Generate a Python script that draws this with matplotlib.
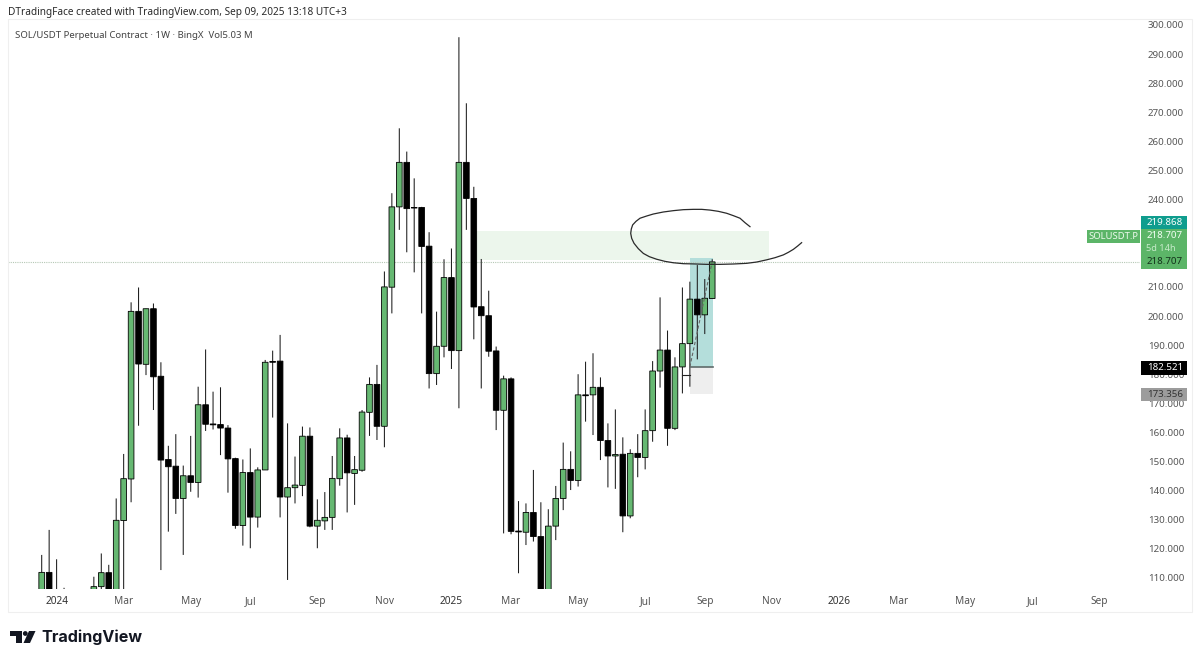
import matplotlib
matplotlib.use('Agg')
import matplotlib.pyplot as plt
from matplotlib.patches import Rectangle, Polygon, Circle
from matplotlib.transforms import Affine2D

################################### DATA ########################################

# weekly candles (anything under ~106 is cut off by the chart)
opens = [103, 111.9, 102, 100, 95, 94, 98, 103, 107, 111.8,
         103, 129.7, 144, 201.6, 183.4, 202.5, 179.3, 150.7, 148.4, 137.3,
         145.1, 142.8, 169.5, 162.9, 162.7, 161.5, 151, 128, 146.2, 130.9,
         147.1, 184.4, 184.5, 137.8, 141, 141.8, 158.7, 127.8, 129.6, 130.8,
         144.1, 158.1, 145.9, 147, 166.9, 176.5, 162.1, 209.9, 237.5, 252.8,
         237.3, 237.3, 224, 180.2, 189.6, 213.2, 188.1, 252.8, 240.4, 203.2,
         200.1, 188, 167.6, 178.4, 126.1, 125.7, 132.5, 124.2, 100, 127.8,
         137.3, 147.3, 143.5, 172.9, 172.9, 175.5, 157.2, 151.9, 152.5, 131.3,
         152.8, 151.4, 160.6, 181.1, 188.3, 161.4, 182.5, 190.5, 205.8, 200.4,
         206]
highs = [117.9, 126.5, 116.4, 106.6, 103, 104, 105, 110.4, 118.4, 114.5,
         137.3, 152.6, 204.7, 209.8, 202.5, 204.3, 184.1, 155.4, 159.4, 148.6,
         158.8, 175.7, 188.5, 174, 175.5, 162.5, 151.3, 150.7, 154.5, 148,
         184.9, 188.1, 193.5, 163.1, 151.7, 162, 161.7, 137, 139.5, 151.9,
         161.4, 159.2, 151.9, 167.7, 178.9, 183.2, 215.3, 242.2, 264.5, 256.5,
         247.3, 237.5, 228.8, 201.5, 219.5, 223.2, 295.8, 273.1, 244.4, 219.6,
         208.7, 189.5, 179.5, 178.9, 136.4, 135.6, 147.1, 136, 133.6, 141.6,
         156.5, 153.5, 180, 184.3, 187.2, 178.9, 163.1, 167.9, 158.3, 154.2,
         159.4, 167.9, 184.5, 206.4, 195, 185.8, 209.8, 211.8, 217.5, 212.7,
         219.5]
lows = [100, 100, 96, 92, 90, 91, 96, 100, 105.5, 101,
        101, 104, 136, 162.3, 179.7, 167.7, 112.7, 125.9, 132, 117.9,
        139.6, 137.6, 160.5, 161, 152.2, 139.3, 126.9, 121.1, 120.2, 127.3,
        147.1, 165.1, 130.8, 109.3, 135.6, 138.1, 127.4, 120.2, 126.5, 126.5,
        141.7, 132.5, 135.1, 146.5, 158.8, 157.4, 154.9, 200.9, 229.6, 221.9,
        215, 200.9, 175.1, 176.3, 185.8, 181.8, 168.3, 229.6, 192, 175.1,
        186, 160.8, 125.3, 125, 111.6, 121.3, 122.5, 100, 98, 123,
        133.3, 140.2, 141.4, 163.7, 159.1, 150.5, 141.1, 140.6, 125.7, 130.5,
        144.6, 147.3, 156.8, 175.4, 155.4, 160.8, 173.4, 175.7, 185.1, 193.8,
        206]
closes = [111.9, 102, 100, 95, 94, 98, 103, 107, 111.8, 103,
          129.8, 144.1, 201.6, 183.5, 202.5, 179.1, 150.5, 148.2, 137.3, 145.1,
          142.8, 169.5, 162.8, 162.6, 161.5, 150.9, 128, 146.2, 130.9, 147.1,
          184.1, 184.1, 137.8, 141, 141.9, 158.7, 127.8, 129.8, 130.8, 144.2,
          158.1, 146.1, 147.2, 167, 176.5, 162.1, 210, 237.5, 252.8, 236.9,
          237.1, 223.9, 180.2, 189.6, 213.2, 188.1, 252.8, 240.4, 203.1, 200.1,
          187.9, 167.6, 178.4, 126, 125.8, 132.5, 124.2, 104, 127.8, 137.3,
          147.3, 143.5, 172.9, 172.6, 175.5, 157.2, 151.9, 152.4, 131.3, 152.8,
          151.4, 160.6, 181.1, 188.3, 161.4, 182.5, 190.5, 205.8, 200.4, 206.1,
          218.6]

price_ticks = list(range(110, 310, 10))
hidden_ticks = [220, 230]   # sit behind the price tags in the screenshot
week_ticks = [2, 11, 20, 28, 37, 46, 55, 63, 72, 81, 89, 98, 107, 115, 124, 133, 142]
week_labels = ['2024', 'Mar', 'May', 'Jul', 'Sep', 'Nov', '2025', 'Mar', 'May', 'Jul',
               'Sep', 'Nov', '2026', 'Mar', 'May', 'Jul', 'Sep']

last_price = 218.707
zone_weeks = [58, 97.6]
zone_prices = [219.2, 229.2]
trade_weeks = [87, 90]
entry_price = 182.521
target_price = 219.868
stop_price = 173.356
sketch_weeks = [95.07, 94.40, 93.73, 92.84, 91.94, 90.82, 89.70, 88.59, 87.47, 86.13, 84.78,
                83.44, 82.10, 81.20, 80.31, 79.77, 79.32, 79.14, 79.06, 79.19, 79.50, 80.08,
                80.76, 81.56, 82.55, 83.66, 84.78, 86.13, 87.47, 89.26, 91.05, 92.84, 94.63,
                95.97, 97.31, 98.43, 99.55, 100.22, 100.89, 101.47, 102.0]
sketch_prices = [230.7, 232.07, 233.6, 234.48, 235.3, 235.97, 236.4, 236.65, 236.65, 236.54, 236.2,
                 235.74, 235.05, 234.36, 233.6, 232.53, 231.3, 229.89, 228.4, 226.69, 225, 223.14,
                 221.5, 220.39, 219.5, 218.78, 218.3, 217.98, 217.9, 217.75, 217.75, 217.87, 218.1,
                 218.55, 219.3, 220.04, 221, 221.88, 222.9, 224.05, 225.2]

################################### PLOT ########################################

UP = '#66b872'
TAG_GREEN = '#5cb568'
GREY = '#555555'
FONT = ['Noto Sans', 'DejaVu Sans']
plt.rcParams['font.family'] = FONT

W, H = 1200, 662
fig = plt.figure(figsize=(W/100, H/100), dpi=100, facecolor='white')
# pixel coordinates for the page furniture (y going down like the screenshot)
px = Affine2D().scale(1/W, -1/H).translate(0, 1) + fig.transFigure

ax = fig.add_axes([8/W, 1-589/H, (1140-8)/W, (589-19)/H])
ax.set_xlim(-4.523, 147.42)
ax.set_ylim(106.19, 302.06)
for s in ax.spines.values():
    s.set_visible(False)

# zones behind the candles
ax.add_patch(Rectangle((zone_weeks[0], zone_prices[0]), zone_weeks[1]-zone_weeks[0],
                       zone_prices[1]-zone_prices[0], color='#ecf6ec', lw=0, zorder=1))
left, right = trade_weeks[0], trade_weeks[1]+0.1
ax.add_patch(Rectangle((left, entry_price), right-left, target_price-entry_price,
                       color='#b4dedb', lw=0, zorder=1))
ax.add_patch(Rectangle((left, stop_price), right-left, entry_price-stop_price,
                       color='#eeeeee', lw=0, zorder=1))
ax.axhline(last_price, color='#b5c8b5', lw=0.8, ls=(0, (1, 1)), zorder=1.5)

# candles
weeks = list(range(len(opens)))
wicks = ax.vlines(weeks, lows, highs, color='#1c1c1c', lw=0.75, zorder=2)
wicks.set_snap(False)
for w, o, c in zip(weeks, opens, closes):
    ax.bar(w, abs(c-o), bottom=min(o, c), width=0.76, color=UP if c >= o else 'black',
           edgecolor='black', lw=0.6, zorder=3, snap=False)

# trade drawing on top of the candles
ax.plot([left, right], [entry_price, entry_price], color='#5f6b6a', lw=1.2, zorder=4)
ax.plot([trade_weeks[0], trade_weeks[1]], [entry_price, last_price], color='#666666',
        lw=0.8, ls=(0, (3, 2)), zorder=4)
ax.plot([86, 87], [179.6, 179.6], color='#222222', lw=0.8, zorder=4)

# freehand circle
ax.plot(sketch_weeks, sketch_prices, color='#2a2a2a', lw=0.9, zorder=5, solid_joinstyle='round')

# axes text
ax.yaxis.tick_right()
ax.set_yticks(price_ticks)
ax.set_yticklabels(['' if p in hidden_ticks else '%.3f' % p for p in price_ticks], fontsize=7.0, color=GREY)
ax.set_xticks(week_ticks)
ax.set_xticklabels(week_labels, fontsize=7.3, color=GREY)
for lab in ax.get_xticklabels():
    if lab.get_text().startswith('20'):
        lab.set_fontweight('bold')
        lab.set_color('#333333')
ax.tick_params(axis='both', length=0)
ax.tick_params(axis='y', pad=5.6)
ax.tick_params(axis='x', pad=5.3)

# price tags on the right
def tag(x0, x1, y0, y1, colour):
    fig.add_artist(Rectangle((x0, y0), x1-x0, y1-y0, transform=px, color=colour, lw=0, zorder=6))

def tag_text(x, y, s, colour, ha='center', size=7.0):
    fig.text(x, y, s, transform=px, color=colour, fontsize=size, ha=ha, va='center', zorder=7)

tag(1141, 1187, 216, 229, '#0f9d8e')
tag(1141, 1187, 229, 255, TAG_GREEN)
tag(1141, 1187, 255, 269, TAG_GREEN)
tag(1087, 1140, 230, 243, TAG_GREEN)
tag(1141, 1187, 361, 374.5, 'black')
tag(1141, 1187, 387.5, 401, '#9c9c9c')
tag_text(1165, 222.5, '%.3f' % target_price, 'white')
tag_text(1165, 236, '%.3f' % last_price, '#f4fff4')
tag_text(1161, 248.5, '5d 14h', '#c8eccb', size=6.6)
tag_text(1165, 262, '%.3f' % last_price, '#12301a')
tag_text(1113.5, 236.5, 'SOLUSDT.P', '#eefaee', size=6.8)
tag_text(1165, 368, '%.3f' % entry_price, 'white')
tag_text(1165, 394.5, '%.3f' % stop_price, '#333333')

# chart frame
fig.add_artist(Rectangle((8, 19), 1184, 593, transform=px, fill=False, ec='#efefef', lw=0.8, zorder=0.5))

# header and footer
fig.text(8.5, 12.5, 'DTradingFace created with TradingView.com, Sep 09, 2025 13:18 UTC+3',
         transform=px, fontsize=7.26, color='#2a2a2a', va='center')
fig.text(15, 35.5, 'SOL/USDT Perpetual Contract · 1W · BingX  Vol5.03 M',
         transform=px, fontsize=6.9, color='#444444', va='center')
fig.text(41, 637, 'TradingView', transform=px, fontsize=11.6, color='#131722', va='center',
         family=['Inter', 'DejaVu Sans'], fontweight='bold')
fig.add_artist(Polygon([(10, 631), (22, 631), (22, 643), (16, 643), (16, 636), (10, 636)],
                       transform=px, color='#131722', lw=0))
fig.add_artist(Circle((25.3, 633.5), 2.4, transform=px, color='#131722', lw=0))
fig.add_artist(Polygon([(29, 631), (35.5, 631), (30, 643), (23.5, 643)],
                       transform=px, color='#131722', lw=0))

fig.savefig('out.png', dpi=100, facecolor='white')
